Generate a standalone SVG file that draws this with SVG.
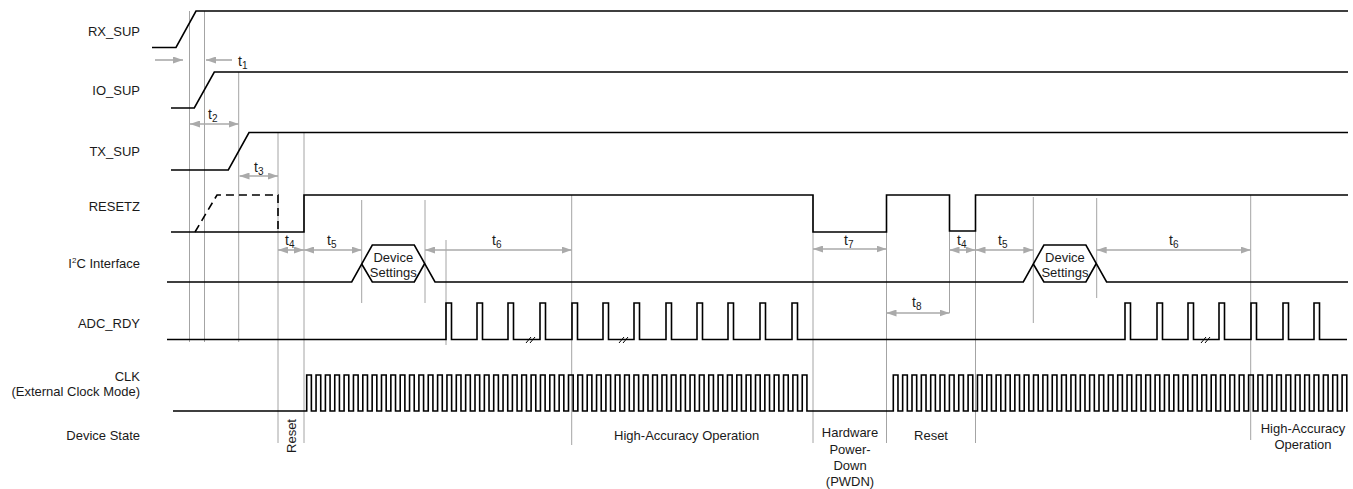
<svg xmlns="http://www.w3.org/2000/svg" width="1353" height="489" viewBox="0 0 1353 489">
<defs>
<style>
text{font-family:"Liberation Sans",Arial,sans-serif;fill:#1a1a1a}
.lbl{font-size:13px;text-anchor:end}
.st{font-size:13px;text-anchor:middle}
.tl{font-size:14px}
.sub{font-size:10px}
.sig{fill:none;stroke:#000;stroke-width:1.6;stroke-linejoin:miter}
.dash{fill:none;stroke:#000;stroke-width:1.6;stroke-dasharray:8 5}
.guide{stroke:#9a9a9a;stroke-width:0.9;fill:none}
.arr{stroke:#aaaaaa;stroke-width:1.6;fill:none;marker-end:url(#ah)}
.arr2{stroke:#aaaaaa;stroke-width:1.6;fill:none;marker-start:url(#ah);marker-end:url(#ah)}
.brk{stroke:#000;stroke-width:1;fill:none}
</style>
<marker id="ah" viewBox="0 0 10 7" refX="10" refY="3.5" markerWidth="10" markerHeight="7" markerUnits="userSpaceOnUse" orient="auto-start-reverse">
<path d="M0,0 L10,3.5 L0,7 z" fill="#aaaaaa"/>
</marker>
</defs>
<rect width="1353" height="489" fill="#fff"/>

<g id="labels">
<text class="lbl" x="140" y="35.5">RX_SUP</text>
<text class="lbl" x="140" y="94.5">IO_SUP</text>
<text class="lbl" x="140" y="156">TX_SUP</text>
<text class="lbl" x="140" y="211">RESETZ</text>
<text class="lbl" x="140" y="268">I<tspan font-size="8" dy="-5">2</tspan><tspan dy="5">C Interface</tspan></text>
<text class="lbl" x="140" y="328">ADC_RDY</text>
<text class="lbl" x="140" y="381">CLK</text>
<text class="lbl" x="140" y="396">(External Clock Mode)</text>
<text class="lbl" x="140" y="439.5">Device State</text>
</g>

<g id="connectors">
<path class="guide" d="M189.5 11V342 M204.5 11V342 M238.7 72V342 M278 133V443 M304 133V443 M361.7 200V303 M425 200V303 M446 240V345 M571.7 195V445 M813 195V443 M886.5 195V443 M949.5 231V313 M975.5 195V443 M1033.3 197V323 M1096.7 198V298 M1250.7 195V440"/>
<line class="arr" x1="155" y1="60" x2="183" y2="60"/>
<line class="arr" x1="232" y1="60" x2="206" y2="60"/>
<line class="arr2" x1="190" y1="124" x2="238.7" y2="124"/>
<line class="arr2" x1="239.5" y1="176" x2="278" y2="176"/>
<line class="arr2" x1="278" y1="250" x2="304" y2="250"/>
<line class="arr2" x1="304" y1="250" x2="361.7" y2="250"/>
<line class="arr2" x1="425" y1="250" x2="571.7" y2="250"/>
<line class="arr2" x1="813" y1="249" x2="886.5" y2="249"/>
<line class="arr2" x1="949.5" y1="250" x2="975.5" y2="250"/>
<line class="arr2" x1="975.5" y1="250" x2="1033.3" y2="250"/>
<line class="arr2" x1="1096.7" y1="250" x2="1250.7" y2="250"/>
<line class="arr2" x1="886.5" y1="313" x2="949.5" y2="313"/>
<text class="tl" x="238" y="66">t<tspan class="sub" dy="3">1</tspan></text>
<text class="tl" x="208" y="119">t<tspan class="sub" dy="3">2</tspan></text>
<text class="tl" x="254" y="172">t<tspan class="sub" dy="3">3</tspan></text>
<text class="tl" x="285" y="245">t<tspan class="sub" dy="3">4</tspan></text>
<text class="tl" x="327" y="245">t<tspan class="sub" dy="3">5</tspan></text>
<text class="tl" x="492" y="245">t<tspan class="sub" dy="3">6</tspan></text>
<text class="tl" x="844" y="245">t<tspan class="sub" dy="3">7</tspan></text>
<text class="tl" x="957" y="245">t<tspan class="sub" dy="3">4</tspan></text>
<text class="tl" x="998" y="245">t<tspan class="sub" dy="3">5</tspan></text>
<text class="tl" x="1169" y="245">t<tspan class="sub" dy="3">6</tspan></text>
<text class="tl" x="912" y="307">t<tspan class="sub" dy="3">8</tspan></text>
</g>

<g id="rx_sup"><path class="sig" d="M152 47.5H176L196 11H1348"/></g>
<g id="io_sup"><path class="sig" d="M171 108H194.3L214.3 72H1348"/></g>
<g id="tx_sup"><path class="sig" d="M171 170H228.3L249 132.5H1348"/></g>
<g id="resetz">
<path class="sig" d="M171 232H304V195H813V232H886.5V195H949.5V231H975.5V195H1348"/>
<path class="dash" d="M195 232L217 195H278V232"/>
</g>
<g id="i2c">
<path class="sig" d="M167 282H351.7L372.3 245H414.3L435 282H1023.3L1043.9 245H1085.9L1106.6 282H1348"/>
<path class="sig" d="M361.7 264L372.3 282H414.3L424.7 263.5"/>
<path class="sig" d="M1033.3 264L1043.9 282H1085.9L1096.3 263.5"/>
<text class="st" x="393.3" y="262">Device</text>
<text class="st" x="393.3" y="277">Settings</text>
<text class="st" x="1064.9" y="262">Device</text>
<text class="st" x="1064.9" y="277">Settings</text>
</g>
<g id="adc_rdy">
<path class="sig" d="M167 339.5H446V303H451.5V339.5H477V303H482.5V339.5H508V303H513.5V339.5H540V303H545.5V339.5H572V303H577.5V339.5H603V303H608.5V339.5H634V303H639.5V339.5H666V303H671.5V339.5H697V303H702.5V339.5H728V303H733.5V339.5H760V303H765.5V339.5H792V303H797.5V339.5H1125V303H1130.5V339.5H1157V303H1162.5V339.5H1188V303H1193.5V339.5H1219V303H1224.5V339.5H1251V303H1256.5V339.5H1283V303H1288.5V339.5H1314V303H1319.5V339.5H1347"/>
<path class="brk" d="M526 343L531 337M530 343L535 337M619 343L624 337M623 343L628 337M1201 343L1206 337M1205 343L1210 337"/>
</g>
<g id="clk">
<path class="sig" d="M173 411H306.7V375
h4.675v36h4.675v-36h4.675v36h4.675v-36h4.675v36h4.675v-36h4.675v36h4.675v-36h4.675v36h4.675v-36h4.675v36h4.675v-36h4.675v36h4.675v-36h4.675v36h4.675v-36h4.675v36h4.675v-36h4.675v36h4.675v-36
h4.675v36h4.675v-36h4.675v36h4.675v-36h4.675v36h4.675v-36h4.675v36h4.675v-36h4.675v36h4.675v-36h4.675v36h4.675v-36h4.675v36h4.675v-36h4.675v36h4.675v-36h4.675v36h4.675v-36h4.675v36h4.675v-36
h4.675v36h4.675v-36h4.675v36h4.675v-36h4.675v36h4.675v-36h4.675v36h4.675v-36h4.675v36h4.675v-36h4.675v36h4.675v-36h4.675v36h4.675v-36h4.675v36h4.675v-36h4.675v36h4.675v-36h4.675v36h4.675v-36
h4.675v36h4.675v-36h4.675v36h4.675v-36h4.675v36h4.675v-36h4.675v36h4.675v-36h4.675v36h4.675v-36h4.675v36h4.675v-36h4.675v36h4.675v-36h4.675v36h4.675v-36h4.675v36h4.675v-36h4.675v36h4.675v-36
h4.675v36h4.675v-36h4.675v36h4.675v-36h4.675v36h4.675v-36h4.675v36h4.675v-36h4.675v36h4.675v-36h4.675v36h4.675v-36h4.675v36h4.675v-36h4.675v36h4.675v-36h4.675v36h4.675v-36h4.675v36h4.675v-36
h4.675v36h4.675v-36h4.675v36h4.675v-36h4.675v36h4.675v-36
h4.675v36H893.3V375
h4.675v36h4.675v-36h4.675v36h4.675v-36h4.675v36h4.675v-36h4.675v36h4.675v-36h4.675v36h4.675v-36h4.675v36h4.675v-36h4.675v36h4.675v-36h4.675v36h4.675v-36h4.675v36h4.675v-36h4.675v36h4.675v-36
h4.675v36h4.675v-36h4.675v36h4.675v-36h4.675v36h4.675v-36h4.675v36h4.675v-36h4.675v36h4.675v-36h4.675v36h4.675v-36h4.675v36h4.675v-36h4.675v36h4.675v-36h4.675v36h4.675v-36h4.675v36h4.675v-36
h4.675v36h4.675v-36h4.675v36h4.675v-36h4.675v36h4.675v-36h4.675v36h4.675v-36h4.675v36h4.675v-36h4.675v36h4.675v-36h4.675v36h4.675v-36h4.675v36h4.675v-36h4.675v36h4.675v-36h4.675v36h4.675v-36
h4.675v36h4.675v-36h4.675v36h4.675v-36h4.675v36h4.675v-36h4.675v36h4.675v-36h4.675v36h4.675v-36h4.675v36h4.675v-36h4.675v36h4.675v-36h4.675v36h4.675v-36h4.675v36h4.675v-36h4.675v36h4.675v-36
h4.675v36h4.675v-36h4.675v36h4.675v-36h4.675v36h4.675v-36h4.675v36h4.675v-36h4.675v36h4.675v-36h4.675v36h4.675v-36h4.675v36h4.675v-36h4.675v36h4.675v-36
h4.675v36h1"/>
</g>
<g id="device_state">
<text class="st" transform="translate(296,436) rotate(-90)">Reset</text>
<text class="st" x="686.7" y="440">High-Accuracy Operation</text>
<text class="st" x="850" y="437">Hardware</text>
<text class="st" x="850" y="453.5">Power-</text>
<text class="st" x="850" y="470">Down</text>
<text class="st" x="850" y="486">(PWDN)</text>
<text class="st" x="931" y="440">Reset</text>
<text class="st" x="1303" y="433">High-Accuracy</text>
<text class="st" x="1303" y="448.5">Operation</text>
</g>
</svg>
